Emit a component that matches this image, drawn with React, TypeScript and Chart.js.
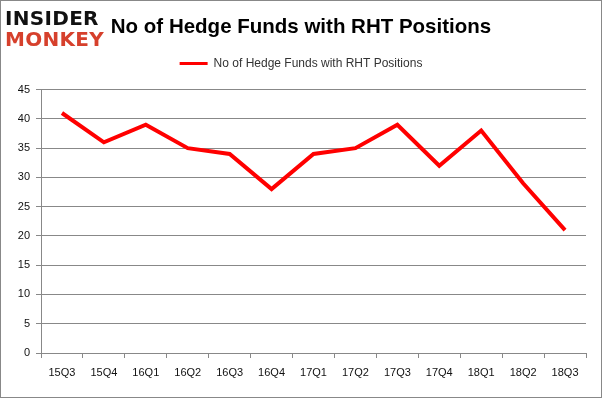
import React, { useEffect, useRef } from "react";
import { Chart, registerables } from "chart.js";

Chart.register(...registerables);

const categories = ["15Q3", "15Q4", "16Q1", "16Q2", "16Q3", "16Q4", "17Q1", "17Q2", "17Q3", "17Q4", "18Q1", "18Q2", "18Q3"];
const hedgeFunds = [41, 36, 39, 35, 34, 28, 34, 35, 39, 32, 38, 29, 21];
const seriesLabel = "No of Hedge Funds with RHT Positions";
const titleText = "No of Hedge Funds with RHT Positions";

const spacerAxis = (position: string, size: number, horizontal: boolean) => ({
  type: "linear",
  position,
  display: true,
  min: 0,
  max: 1,
  grid: { display: false, drawOnChartArea: false, drawTicks: false },
  border: { display: false },
  ticks: { display: false },
  afterFit: (scale: any) => {
    if (horizontal) scale.height = size;
    else scale.width = size;
  },
});

export default function App() {
  const ref = useRef<HTMLCanvasElement | null>(null);

  useEffect(() => {
    document.body.style.margin = "0";
    const ctx = ref.current!;
    const chart = new Chart(ctx, {
      type: "line",
      data: {
        labels: categories,
        datasets: [
          {
            label: seriesLabel,
            data: hedgeFunds,
            borderColor: "#ff0000",
            backgroundColor: "#ff0000",
            borderWidth: 4,
            pointRadius: 0,
            tension: 0,
            xAxisID: "x",
            yAxisID: "y",
          },
        ],
      },
      options: {
        animation: false,
        responsive: false,
        maintainAspectRatio: false,
        layout: { padding: 0 },
        plugins: {
          title: {
            display: true,
            text: titleText,
            color: "#000",
            font: { family: "Liberation Sans", size: 20.5, weight: "bold" },
            padding: { top: 14, bottom: 8 },
          },
          legend: {
            display: true,
            labels: {
              usePointStyle: true,
              pointStyle: "line",
              pointStyleWidth: 28,
              boxHeight: 12,
              color: "#333",
              font: { family: "Liberation Sans", size: 12 },
              padding: 10,
              generateLabels: (c: any) => {
                const items = Chart.defaults.plugins.legend.labels.generateLabels(c);
                return items.map((it: any) => ({ ...it, lineWidth: 3 }));
              },
            },
          },
          tooltip: { enabled: false },
        },
        scales: {
          x: {
            offset: true,
            grid: {
              display: true,
              offset: true,
              drawOnChartArea: false,
              drawTicks: true,
              tickLength: 5,
              color: "#888",
            },
            border: { display: true, color: "#888", width: 1 },
            ticks: {
              color: "#111",
              font: { family: "Liberation Sans", size: 11 },
              padding: 8,
              maxRotation: 0,
            },
            afterFit: (scale: any) => {
              scale.height = 44;
            },
          },
          y: {
            min: 0,
            max: 45,
            ticks: {
              stepSize: 5,
              color: "#111",
              font: { family: "Liberation Sans", size: 11 },
              padding: 6,
            },
            grid: {
              color: "#888",
              drawTicks: true,
              tickLength: 5,
            },
            border: { display: true, color: "#888", width: 1 },
            afterFit: (scale: any) => {
              scale.width = 40;
            },
          },
          spacerTop: spacerAxis("top", 10, true) as any,
          spacerRight: spacerAxis("right", 15, false) as any,
        },
      },
    });
    return () => chart.destroy();
  }, []);

  return (
    <div
      style={{
        position: "relative",
        width: 602,
        height: 398,
        boxSizing: "border-box",
        border: "1px solid #888",
        background: "#fff",
        overflow: "hidden",
      }}
    >
      <canvas ref={ref} width={600} height={396} style={{ position: "absolute", left: 0, top: 0 }} />
      <div
        style={{
          position: "absolute",
          left: 4,
          top: 7,
          fontFamily: "DejaVu Sans",
          fontWeight: "bold",
          fontSize: 20,
          lineHeight: "21px",
        }}
      >
        <div style={{ color: "#111", letterSpacing: 0.3 }}>INSIDER</div>
        <div style={{ color: "#d6402c", letterSpacing: 0.3 }}>MONKEY</div>
      </div>
    </div>
  );
}
